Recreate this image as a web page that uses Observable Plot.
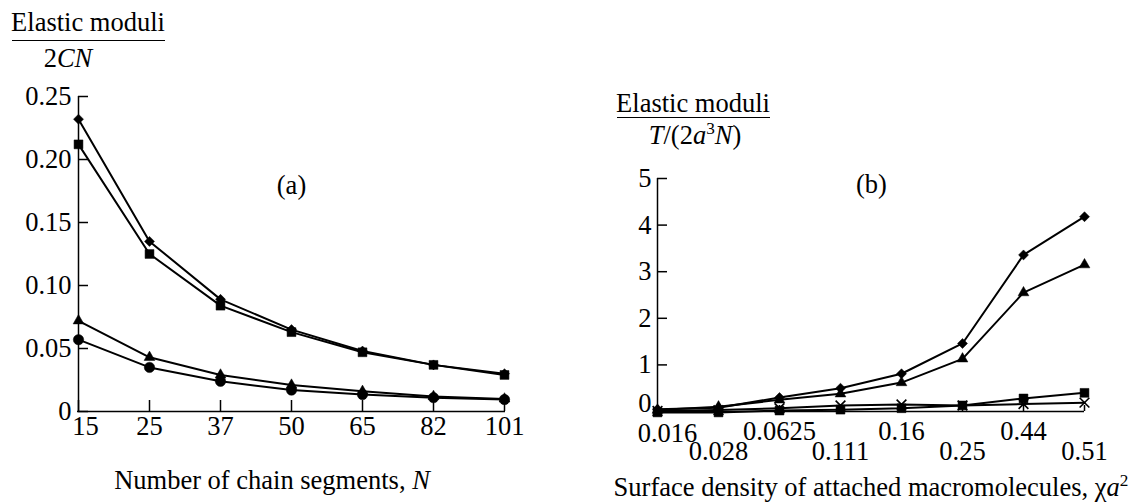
<!DOCTYPE html>
<html>
<head>
<meta charset="utf-8">
<script src="https://cdn.jsdelivr.net/npm/d3@7"></script>
<script src="https://cdn.jsdelivr.net/npm/@observablehq/plot@0.6"></script>
<style>
  html, body { margin: 0; padding: 0; background: #fff; }
  #wrap { position: relative; width: 1133px; height: 502px; overflow: hidden; font-family: "Liberation Serif", "Times New Roman", serif; font-size: 26.5px; color: #000; }
  #wrap > .plot { position: absolute; top: 0; }
  .lbl { position: absolute; transform: translate(-50%, -50%); white-space: nowrap; line-height: 1; }
  .bar { position: absolute; border-top: 1.5px solid #000; height: 0; }
  sup { font-size: 0.65em; vertical-align: 0.55em; line-height: 0; }
</style>
</head>
<body>
<div id="wrap"></div>
<script>
// ---- Panel (a) data ----
const leftN = ["15", "25", "37", "50", "65", "82", "101"];
const leftDiamond  = [0.232, 0.135, 0.089, 0.065, 0.048, 0.037, 0.030];
const leftSquare   = [0.212, 0.125, 0.084, 0.063, 0.047, 0.037, 0.029];
const leftTriangle = [0.072, 0.043, 0.029, 0.021, 0.016, 0.012, 0.010];
const leftCircle   = [0.057, 0.035, 0.024, 0.017, 0.0135, 0.011, 0.0095];
const leftYTicks = [0, 0.05, 0.10, 0.15, 0.20, 0.25];

// ---- Panel (b) data ----
const rightX = ["0.016", "0.028", "0.0625", "0.111", "0.16", "0.25", "0.44", "0.51"];
const rightDiamond  = [0.05, 0.08, 0.30, 0.50, 0.81, 1.46, 3.36, 4.18];
const rightTriangle = [0.03, 0.10, 0.25, 0.38, 0.62, 1.13, 2.55, 3.15];
const rightSquare   = [-0.02, -0.02, 0.02, 0.04, 0.07, 0.13, 0.28, 0.40];
const rightCross    = [0.01, 0.03, 0.07, 0.13, 0.15, 0.13, 0.16, 0.19];
const rightYTicks = [0, 1, 2, 3, 4, 5];

const FONT = "Liberation Serif, Times New Roman, serif";
const FS = 26.5;

function table(xs, series) {
  const out = [];
  for (const [name, vals] of series) vals.forEach((v, i) => out.push({x: xs[i], y: v, s: name}));
  return out;
}

const leftSeries = [["diamond", leftDiamond], ["square", leftSquare], ["triangle", leftTriangle], ["circle", leftCircle]];
const rightSeries = [["diamond", rightDiamond], ["triangle", rightTriangle], ["square", rightSquare], ["cross", rightCross]];
const leftData = table(leftN, leftSeries);
const rightData = table(rightX, rightSeries);

const symbolOf = {diamond: "diamond2", square: "square", triangle: "triangle", circle: "circle", cross: "times"};
const rOf = {diamond: 4.5, square: 5, triangle: 4, circle: 5.2, cross: 4.5};

function dotMarks(data, series) {
  return series.map(([name]) => Plot.dot(data.filter(d => d.s === name), {
    x: "x", y: "y", symbol: symbolOf[name], r: rOf[name],
    fill: name === "cross" ? "none" : "black",
    stroke: "black", strokeWidth: name === "cross" ? 1.6 : 0.5
  }));
}

// ---- Left plot ----
const left = Plot.plot({
  width: 560, height: 502,
  marginLeft: 77, marginRight: 55, marginTop: 96, marginBottom: 91,
  style: {fontFamily: FONT, fontSize: FS + "px", background: "transparent", color: "black", overflow: "visible"},
  x: {type: "point", domain: leftN, padding: 0},
  y: {domain: [0, 0.25]},
  marks: [
    Plot.axisY({ticks: leftYTicks, tickSize: 0, tickPadding: 6, fontSize: FS, label: null,
      tickFormat: d => d === 0 ? "0" : d.toFixed(2)}),
    Plot.axisX({ticks: leftN.slice(0, 1), tickSize: 0, tickPadding: 5, dx: 7, fontSize: FS, label: null}),
    Plot.axisX({ticks: leftN.slice(1), tickSize: 0, tickPadding: 5, fontSize: FS, label: null}),
    // axis lines
    Plot.ruleY([0], {stroke: "black", strokeWidth: 1.5}),
    Plot.ruleX([leftN[0]], {y1: 0, y2: 0.25, stroke: "black", strokeWidth: 1.5}),
    // inward ticks
    Plot.ruleY(leftYTicks, {y: d => d, x1: () => leftN[0], x2: () => leftN[0], insetRight: -10, stroke: "black", strokeWidth: 1.5}),
    Plot.ruleX(leftN, {x: d => d, y1: () => 0, y2: () => 0, insetBottom: 11, stroke: "black", strokeWidth: 1.5}),
    Plot.line(leftData, {x: "x", y: "y", z: "s", stroke: "black", strokeWidth: 2}),
    ...dotMarks(leftData, leftSeries),
    Plot.text(["(a)"], {x: () => "50", y: () => 0.179, text: d => d, fontSize: FS, fill: "black"})
  ]
});
left.classList.add("plot");
left.style.left = "0px";

// ---- Right plot ----
const evenX = rightX.filter((d, i) => i % 2 === 0);
const oddX = rightX.filter((d, i) => i % 2 === 1);
const right = Plot.plot({
  width: 573, height: 502,
  marginLeft: 97, marginRight: 49, marginTop: 178, marginBottom: 91,
  style: {fontFamily: FONT, fontSize: FS + "px", background: "transparent", color: "black", overflow: "visible"},
  x: {type: "point", domain: rightX, padding: 0},
  y: {domain: [0, 5]},
  marks: [
    Plot.axisY({ticks: rightYTicks.slice(1), tickSize: 0, tickPadding: 6, fontSize: FS, label: null, tickFormat: d => String(d)}),
    Plot.axisY({ticks: rightYTicks.slice(0, 1), tickSize: 0, tickPadding: 6, dy: -8, fontSize: FS, label: null, tickFormat: d => String(d)}),
    Plot.axisX({ticks: evenX.slice(0, 1), tickSize: 0, tickPadding: 12, dx: 10, fontSize: FS, label: null}),
    Plot.axisX({ticks: evenX.slice(1), tickSize: 0, tickPadding: 10, fontSize: FS, label: null}),
    Plot.axisX({ticks: oddX, tickSize: 0, tickPadding: 30, fontSize: FS, label: null}),
    Plot.ruleY([0], {stroke: "black", strokeWidth: 1.5}),
    Plot.ruleX([rightX[0]], {y1: 0, y2: 5, stroke: "black", strokeWidth: 1.5}),
    Plot.ruleY(rightYTicks, {y: d => d, x1: () => rightX[0], x2: () => rightX[0], insetRight: -10, stroke: "black", strokeWidth: 1.5}),
    Plot.ruleX(rightX, {x: d => d, y1: () => 0, y2: () => 0, insetBottom: 6, stroke: "black", strokeWidth: 1.5}),
    Plot.line(rightData, {x: "x", y: "y", z: "s", stroke: "black", strokeWidth: 2}),
    ...dotMarks(rightData, rightSeries),
    Plot.text(["(b)"], {x: () => "0.16", y: () => 4.88, dx: -30, text: d => d, fontSize: FS, fill: "black"})
  ]
});
right.classList.add("plot");
right.style.left = "560px";

const wrap = document.getElementById("wrap");
wrap.appendChild(left);
wrap.appendChild(right);

function addLabel(html, cx, cy) {
  const el = document.createElement("div");
  el.className = "lbl";
  el.innerHTML = html;
  el.style.left = cx + "px";
  el.style.top = cy + "px";
  wrap.appendChild(el);
}
function addBar(x1, x2, y) {
  const el = document.createElement("div");
  el.className = "bar";
  el.style.left = x1 + "px";
  el.style.width = (x2 - x1) + "px";
  el.style.top = y + "px";
  wrap.appendChild(el);
}

// Left y label (fraction)
addLabel("Elastic moduli", 88, 22);
addBar(12, 165, 40);
addLabel("2<i>CN</i>", 68, 58);
// Left x label
addLabel("Number of chain segments, <i>N</i>", 272, 480);

// Right y label (fraction)
addLabel("Elastic moduli", 693, 103);
addBar(617, 770, 117);
addLabel("<i>T</i>/(2<i>a</i><sup>3</sup><i>N</i>)", 695, 135);
// Right x label
addLabel("Surface density of attached macromolecules, χ<i>a</i><sup>2</sup>", 871, 487);
</script>
</body>
</html>
